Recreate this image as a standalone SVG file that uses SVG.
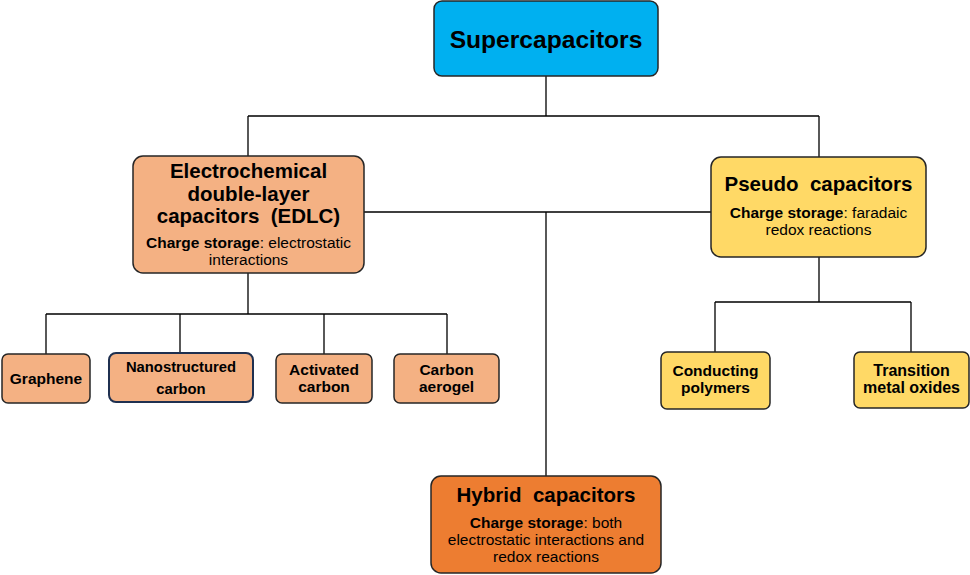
<svg xmlns="http://www.w3.org/2000/svg" width="970" height="575" viewBox="0 0 970 575">
<style>
.box{stroke:#262626;stroke-width:1.5}
.b{font-family:"Liberation Sans",Arial,sans-serif;font-weight:bold;fill:#000;text-anchor:middle}
.n{font-family:"Liberation Sans",Arial,sans-serif;fill:#000;text-anchor:middle;font-size:15.5px}
.l{font-size:15.5px}
.line{stroke:#000;stroke-width:1.3;fill:none}
</style>
<rect width="970" height="575" fill="#fff"/>
<g id="connectors">
<path class="line" d="M546 76V116M248 116H819M248 116V156M819 116V157"/>
<path class="line" d="M364 212H711M546 212V476"/>
<path class="line" d="M248 273V314M46 314H447M46 314V354M180 314V353M324 314V354M447 314V354"/>
<path class="line" d="M819 257V302M715 302H911M715 302V352M911 302V352"/>
</g>
<g id="supercapacitors">
<rect class="box" x="434" y="1" width="224" height="75" rx="8" fill="#00B0F0"/>
<text class="b" x="546" y="48" font-size="24.6">Supercapacitors</text>
</g>
<g id="edlc">
<rect class="box" x="133" y="156" width="231" height="117" rx="10" fill="#F4B183"/>
<text class="b" x="248.5" y="178" font-size="20.5">Electrochemical</text>
<text class="b" x="248.5" y="201" font-size="20.5">double-layer</text>
<text class="b" x="248.5" y="223" font-size="20.5" xml:space="preserve">capacitors  (EDLC)</text>
<text class="n" x="248.5" y="248"><tspan font-weight="bold">Charge storage</tspan>: electrostatic</text>
<text class="n" x="248.5" y="265">interactions</text>
</g>
<g id="pseudo">
<rect class="box" x="711" y="157" width="215" height="100" rx="10" fill="#FFD966"/>
<text class="b" x="818.5" y="191" font-size="20.5" xml:space="preserve">Pseudo  capacitors</text>
<text class="n" x="818.5" y="218"><tspan font-weight="bold">Charge storage</tspan>: faradaic</text>
<text class="n" x="818.5" y="235">redox reactions</text>
</g>
<g id="hybrid">
<rect class="box" x="431" y="476" width="230" height="97" rx="10" fill="#ED7D31"/>
<text class="b" x="546" y="502" font-size="20.5" xml:space="preserve">Hybrid  capacitors</text>
<text class="n" x="546" y="528"><tspan font-weight="bold">Charge storage</tspan>: both</text>
<text class="n" x="546" y="545">electrostatic interactions and</text>
<text class="n" x="546" y="562">redox reactions</text>
</g>
<g id="graphene">
<rect class="box" x="2" y="354" width="88" height="49" rx="6" fill="#F4B183"/>
<text class="b l" x="46" y="384">Graphene</text>
</g>
<g id="nanostructured">
<rect x="109" y="353" width="144" height="49" rx="7" fill="#F4B183" stroke="#1F3050" stroke-width="2"/>
<text class="b" x="181" y="372" font-size="14.8">Nanostructured</text>
<text class="b" x="181" y="394" font-size="14.8">carbon</text>
</g>
<g id="activated">
<rect class="box" x="276" y="354" width="96" height="49" rx="6" fill="#F4B183"/>
<text class="b l" x="324" y="375">Activated</text>
<text class="b l" x="324" y="392">carbon</text>
</g>
<g id="aerogel">
<rect class="box" x="394" y="354" width="105" height="49" rx="6" fill="#F4B183"/>
<text class="b l" x="446.5" y="375">Carbon</text>
<text class="b l" x="446.5" y="392">aerogel</text>
</g>
<g id="conducting">
<rect class="box" x="661" y="352" width="109" height="57" rx="6" fill="#FFD966"/>
<text class="b l" x="715.5" y="376">Conducting</text>
<text class="b l" x="715.5" y="393">polymers</text>
</g>
<g id="transition">
<rect class="box" x="854" y="352" width="115" height="56" rx="6" fill="#FFD966"/>
<text class="b" x="911.5" y="376" font-size="16">Transition</text>
<text class="b" x="911.5" y="393" font-size="16">metal oxides</text>
</g>
</svg>
